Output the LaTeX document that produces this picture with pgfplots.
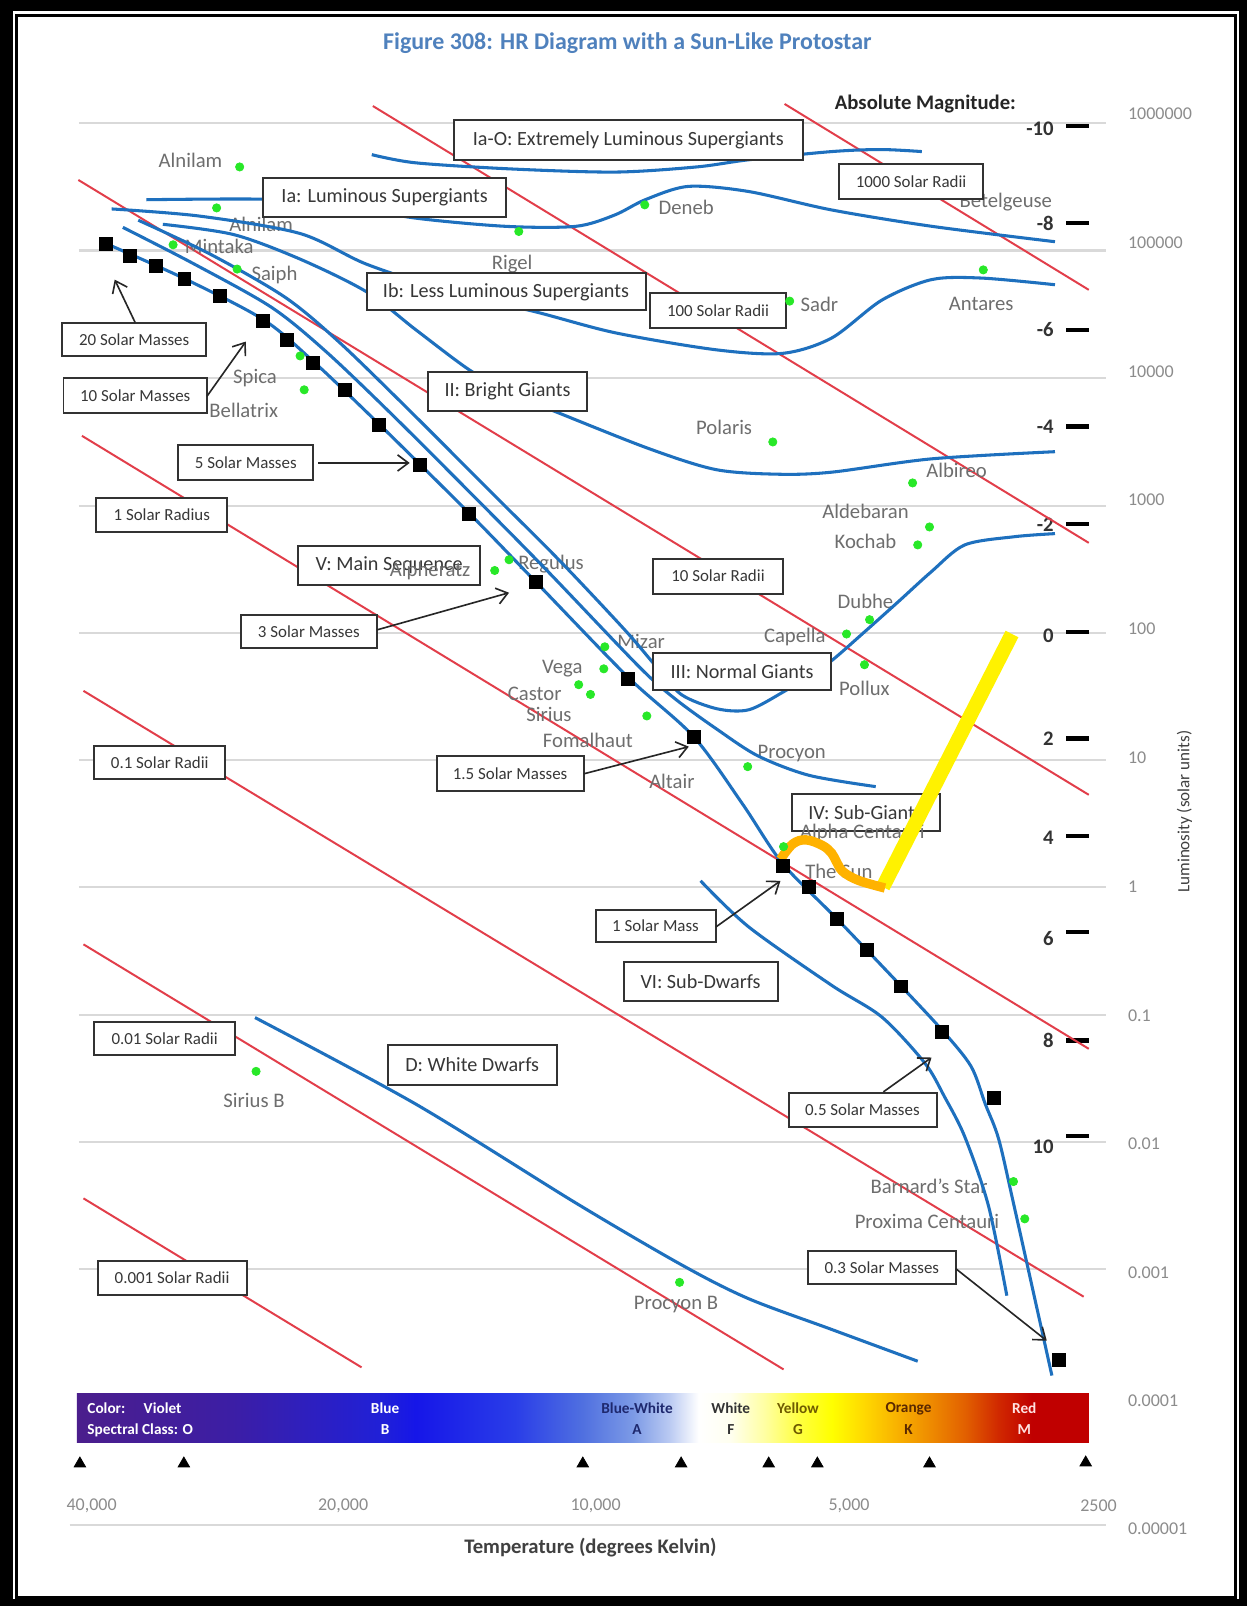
\documentclass[border=0pt]{standalone}
\usepackage{pgfplots}
\pgfplotsset{compat=1.18}
\usepackage{fontspec}
\setmainfont{Carlito}
\usetikzlibrary{arrows.meta}
\definecolor{gridc}{RGB}{217,217,217}
\definecolor{radc}{RGB}{226,62,74}
\definecolor{bluec}{RGB}{30,112,190}
\definecolor{starc}{RGB}{40,232,40}
\definecolor{labc}{RGB}{110,110,110}
\definecolor{titc}{RGB}{79,129,189}
\definecolor{boxc}{RGB}{50,50,50}
\definecolor{boxtxt}{RGB}{55,55,55}
\definecolor{tickc}{RGB}{140,140,140}
\definecolor{orangec}{RGB}{255,178,0}
\pgfdeclarehorizontalshading{spec}{100bp}{%
rgb(0bp)=(0.294,0.118,0.549);
rgb(25bp)=(0.294,0.118,0.549);
rgb(32.69bp)=(0.235,0.118,0.647);
rgb(40.13bp)=(0.125,0.125,0.847);
rgb(41.75bp)=(0.086,0.086,0.91);
rgb(46.71bp)=(0.165,0.243,0.91);
rgb(50bp)=(0.314,0.439,0.878);
rgb(52.48bp)=(0.486,0.604,0.902);
rgb(54.25bp)=(0.725,0.788,0.949);
rgb(55.72bp)=(1,1,1);
rgb(57.29bp)=(1,1,0.94);
rgb(59.01bp)=(1,1,0.63);
rgb(60.68bp)=(1,1,0.25);
rgb(62.3bp)=(1,1,0);
rgb(63.92bp)=(1,0.847,0);
rgb(65.59bp)=(0.973,0.69,0);
rgb(67.21bp)=(0.933,0.541,0);
rgb(68.88bp)=(0.886,0.376,0);
rgb(70.55bp)=(0.816,0.157,0);
rgb(72.17bp)=(0.753,0,0);
rgb(75bp)=(0.753,0,0);
rgb(100bp)=(0.753,0,0)}
\tikzset{
  bx/.style={draw=boxc, line width=1.1pt, fill=white},
  bt/.style={font=\fontsize{11.2}{13}\selectfont, text=boxtxt, inner sep=0pt},
  st/.style={font=\fontsize{9.4}{11}\selectfont, text=boxtxt, inner sep=0pt},
  sl/.style={font=\fontsize{11.5}{13}\selectfont, text=labc, inner sep=0pt},
  ar/.style={-{Straight Barb[length=6pt,width=9pt,line width=0.9pt]}, line width=0.9pt, black!85},
  rl/.style={radc, line width=1.1pt},
  bl/.style={bluec, line width=1.7pt, smooth, tension=0.5},
  gl/.style={gridc, line width=1.2pt},
  md/.style={black, line width=2.4pt},
  ml/.style={font=\bfseries\fontsize{11.5}{13}\selectfont, text=black!80, anchor=east, inner sep=0pt},
  rt/.style={font=\fontsize{10}{12}\selectfont, text=tickc, anchor=west, inner sep=0pt},
  tt/.style={font=\fontsize{10}{12}\selectfont, text=tickc, inner sep=0pt},
  cb/.style={font=\bfseries\fontsize{8.5}{10}\selectfont, inner sep=0pt},
}
\begin{document}
\begin{tikzpicture}
\begin{axis}[
  scale only axis, width=243.4mm, height=313.6mm,
  xmin=0, xmax=1217, ymin=0, ymax=1568, y dir=reverse,
  hide axis, clip=false,
]
% frame
\fill[black] (axis cs:0,0) rectangle (axis cs:1217,1568);
\fill[white] (axis cs:13,10.5) rectangle (axis cs:1210,1561.5);
\draw[black, line width=1.7pt] (axis cs:16.1,14.7) rectangle (axis cs:1206.7,1559.3);

% title
\node[font=\bfseries\fontsize{13.3}{15}\selectfont, text=titc, inner sep=0pt] at (axis cs:612.5,42) {Figure 308: HR Diagram with a Sun-Like Protostar};

% gridlines (log L = 6 ... -5)
\draw[gl] (axis cs:77,120) -- (axis cs:1080,120);
\draw[gl] (axis cs:77,244.5) -- (axis cs:1080,244.5);
\draw[gl] (axis cs:77,369) -- (axis cs:1080,369);
\draw[gl] (axis cs:77,494) -- (axis cs:1080,494);
\draw[gl] (axis cs:77,618) -- (axis cs:1080,618);
\draw[gl] (axis cs:77,742) -- (axis cs:1080,742);
\draw[gl] (axis cs:77,866) -- (axis cs:1080,866);
\draw[gl] (axis cs:77,991) -- (axis cs:1080,991);
\draw[gl] (axis cs:77,1115) -- (axis cs:1080,1115);
\draw[gl] (axis cs:77,1239) -- (axis cs:1080,1239);
\draw[gl] (axis cs:68,1489) -- (axis cs:1080,1489);

% luminosity labels
\node[rt] at (axis cs:1101,111) {1000000};
\node[rt] at (axis cs:1101,237) {100000};
\node[rt] at (axis cs:1101,363) {10000};
\node[rt] at (axis cs:1101,488) {1000};
\node[rt] at (axis cs:1101,614) {100};
\node[rt] at (axis cs:1101,740) {10};
\node[rt] at (axis cs:1101,866) {1};
\node[rt] at (axis cs:1101,992) {0.1};
\node[rt] at (axis cs:1101,1117) {0.01};
\node[rt] at (axis cs:1101,1243) {0.001};
\node[rt] at (axis cs:1101,1368) {0.0001};
\node[rt] at (axis cs:1101,1493) {0.00001};
\node[font=\fontsize{9.5}{11}\selectfont, text=black!75, rotate=90, inner sep=0pt] at (axis cs:1156.5,792.5) {Luminosity (solar units)};

% absolute magnitude
\node[font=\bfseries\fontsize{11.5}{13}\selectfont, text=black!85, inner sep=0pt] at (axis cs:903.5,102) {Absolute Magnitude:};
\draw[md] (axis cs:1041,123) -- (axis cs:1063,123);
\draw[md] (axis cs:1041,217.5) -- (axis cs:1063,217.5);
\draw[md] (axis cs:1041,322) -- (axis cs:1063,322);
\draw[md] (axis cs:1041,416.5) -- (axis cs:1063,416.5);
\draw[md] (axis cs:1041,511.5) -- (axis cs:1063,511.5);
\draw[md] (axis cs:1041,617) -- (axis cs:1063,617);
\draw[md] (axis cs:1041,721) -- (axis cs:1063,721);
\draw[md] (axis cs:1041,816) -- (axis cs:1063,816);
\draw[md] (axis cs:1041,910) -- (axis cs:1063,910);
\draw[md] (axis cs:1041,1016) -- (axis cs:1063,1016);
\draw[md] (axis cs:1041,1109) -- (axis cs:1063,1109);
\node[ml] at (axis cs:1029,126) {-10};
\node[ml] at (axis cs:1029,218) {-8};
\node[ml] at (axis cs:1029,322) {-6};
\node[ml] at (axis cs:1029,417) {-4};
\node[ml] at (axis cs:1029,512) {-2};
\node[ml] at (axis cs:1029,621) {0};
\node[ml] at (axis cs:1029,721) {2};
\node[ml] at (axis cs:1029,818) {4};
\node[ml] at (axis cs:1029,916) {6};
\node[ml] at (axis cs:1029,1016) {8};
\node[ml] at (axis cs:1029,1120) {10};

% colour bar
\shade[shading=spec] (axis cs:75,1360.5) rectangle (axis cs:1063,1408);
\node[cb, text=white, anchor=west] at (axis cs:85,1375) {Color:\hspace{1.2em}Violet};
\node[cb, text=white, anchor=west] at (axis cs:85,1396) {Spectral Class: O};
\node[cb, text=white] at (axis cs:376,1375) {Blue};
\node[cb, text=white] at (axis cs:376,1396) {B};
\node[cb, text={rgb,255:red,30;green,40;blue,110}] at (axis cs:622,1375) {Blue-White};
\node[cb, text={rgb,255:red,30;green,40;blue,110}] at (axis cs:622,1396) {A};
\node[cb, text=black!80] at (axis cs:713.5,1375) {White};
\node[cb, text=black!80] at (axis cs:713.5,1396) {F};
\node[cb, text={rgb,255:red,110;green,90;blue,0}] at (axis cs:779,1375) {Yellow};
\node[cb, text={rgb,255:red,110;green,90;blue,0}] at (axis cs:779,1396) {G};
\node[cb, text={rgb,255:red,90;green,40;blue,0}] at (axis cs:887,1375) {Orange};
\node[cb, text={rgb,255:red,90;green,40;blue,0}] at (axis cs:887,1396) {K};
\node[cb, text={rgb,255:red,255;green,225;blue,225}] at (axis cs:1000,1375) {Red};
\node[cb, text={rgb,255:red,255;green,225;blue,225}] at (axis cs:1000,1396) {M};

% spectral class boundaries
\addplot[only marks, mark=triangle*, mark size=3.7pt, black] coordinates {
(78,1429) (179.5,1429) (569,1429) (665,1429) (750.5,1429) (798,1429) (907.5,1429) (1060,1428)};

% temperature labels
\node[tt] at (axis cs:89.5,1470) {40,000};
\node[tt] at (axis cs:335,1470) {20,000};
\node[tt] at (axis cs:581.5,1470) {10,000};
\node[tt] at (axis cs:829,1470) {5,000};
\node[tt] at (axis cs:1072.5,1470) {2500};
\node[font=\bfseries\fontsize{11.5}{13}\selectfont, text=black!75, inner sep=0pt] at (axis cs:576.5,1511) {Temperature (degrees Kelvin)};

% lines of constant radius
\addplot[rl] coordinates {(766,101.5) (1063,283)};
\addplot[rl] coordinates {(364,103.5) (1063,530)};
\addplot[rl] coordinates {(76.5,175.7) (1063,776)};
\addplot[rl] coordinates {(80,425.5) (1063,1024)};
\addplot[rl] coordinates {(81.5,674.5) (1058,1266)};
\addplot[rl] coordinates {(81.5,922) (765,1337)};
\addplot[rl] coordinates {(81.5,1170) (353,1335)};

% star names (under the curves)
\node[sl] at (axis cs:186,157) {Alnilam};
\node[sl] at (axis cs:255,219.5) {Alnilam};
\node[sl] at (axis cs:214,241) {Mintaka};
\node[sl] at (axis cs:268,268) {Saiph};
\node[sl] at (axis cs:249,369) {Spica};
\node[sl] at (axis cs:238,401) {Bellatrix};
\node[sl] at (axis cs:500,258) {Rigel};
\node[sl] at (axis cs:670,202) {Deneb};
\node[sl] at (axis cs:800,297) {Sadr};
\node[sl] at (axis cs:982,197) {Betelgeuse};
\node[sl] at (axis cs:958,297) {Antares};
\node[sl] at (axis cs:707,417) {Polaris};
\node[sl] at (axis cs:934,459) {Albireo};
\node[sl] at (axis cs:845,499) {Aldebaran};
\node[sl] at (axis cs:845,529) {Kochab};
\node[sl] at (axis cs:845,587) {Dubhe};
\node[sl] at (axis cs:776,622) {Capella};
\node[sl] at (axis cs:844,672) {Pollux};
\node[sl] at (axis cs:626,626) {Mizar};
\node[sl] at (axis cs:549,653) {Vega};
\node[sl] at (axis cs:522,677) {Castor};
\node[sl] at (axis cs:536,698) {Sirius};
\node[sl] at (axis cs:574,723) {Fomalhaut};
\node[sl] at (axis cs:773,736) {Procyon};
\node[sl] at (axis cs:656,763) {Altair};
\node[sl] at (axis cs:538,551) {Regulus};
\node[sl] at (axis cs:819,851) {The Sun};
\node[sl] at (axis cs:907,1158) {Barnard's Star};
\node[sl] at (axis cs:905,1193) {Proxima Centauri};
\node[sl] at (axis cs:248,1074) {Sirius B};
\node[sl] at (axis cs:660,1274) {Procyon B};

% luminosity class curves
\addplot[bl] coordinates {(363,151) (406,159) (500,165) (601,168) (680,163) (731,156) (812,148) (860,146) (900,148)};
\addplot[bl] coordinates {(143,195) (257,194.5) (330,200) (406,213) (494,221) (562,221) (600,210) (630,195) (672,182) (731,187) (812,205) (910,221) (1030,236)};
\addplot[bl] coordinates {(109,204) (195,211) (293,228) (358,258) (440,285) (523,304.5) (601,325) (699,341.5) (764,345) (812,330) (861,293) (909.5,273) (958.5,271.5) (1030,278)};
\addplot[bl] coordinates {(159,219) (228,229) (293,253) (358,285) (406,322) (458,361) (500,385) (542.5,402) (633.5,438) (699,458.5) (760,463) (812,461) (909.5,448) (1030,441)};
% main sequence band
\addplot[bl] coordinates {(104,238) (180,272) (257,312) (305,352) (370,414) (458,501) (523,568) (613,661) (677,719) (725,785) (764,843) (817,897) (880,963) (920,1006) (948,1041) (962,1078) (975,1112) (990,1177) (1027,1343)};
\addplot[bl] coordinates {(120,222) (190,258) (265,300) (318,343) (383,405) (470,492) (535,558) (625,652) (660,683) (700,712) (740,738) (790,757) (855,768)};
\addplot[bl] coordinates {(135,215) (205,248) (278,290) (330,333) (395,396) (482,483) (547,548) (610,615) (640,650) (665,678) (700,692) (731,693) (764,676) (790,660) (812,645) (844,617) (877,587.5) (909.5,558) (942,532) (990.5,524) (1030,521)};
% sub-dwarfs
\addplot[bl] coordinates {(684,860) (731,905) (812,962) (861,993) (903,1038) (922,1070.5) (942,1110) (965,1177) (983,1265)};
% white dwarfs
\addplot[bl] coordinates {(249,993.5) (406,1078) (563,1175) (666.5,1235.5) (731,1268) (812,1298) (896,1329)};

% boxes
\draw[bx] (axis cs:443,117) rectangle (axis cs:784,156);
\node[bt] at (axis cs:613.5,136.5) {Ia-O: Extremely Luminous Supergiants};
\draw[bx] (axis cs:257,174) rectangle (axis cs:494,211.5);
\node[bt] at (axis cs:375.5,193) {Ia: Luminous Supergiants};
\draw[bx] (axis cs:358,267) rectangle (axis cs:630.5,302.5);
\node[bt] at (axis cs:494,285) {Ib: Less Luminous Supergiants};
\draw[bx] (axis cs:418,363) rectangle (axis cs:573,401);
\node[bt] at (axis cs:495.5,382) {II: Bright Giants};
\draw[bx] (axis cs:638,638) rectangle (axis cs:811,673.5);
\node[bt] at (axis cs:724.5,656) {III: Normal Giants};
\draw[bx] (axis cs:773,775) rectangle (axis cs:917.5,811);
\node[bt] at (axis cs:845,793) {IV: Sub-Giants};
\draw[bx] (axis cs:291,533) rectangle (axis cs:468.5,571);
\node[bt] at (axis cs:380,552) {V: Main Sequence};
\draw[bx] (axis cs:609,939) rectangle (axis cs:759.5,977);
\node[bt] at (axis cs:684,958) {VI: Sub-Dwarfs};
\draw[bx] (axis cs:379,1020) rectangle (axis cs:543.5,1059);
\node[bt] at (axis cs:461,1039.5) {D: White Dwarfs};

\draw[bx] (axis cs:61,315) rectangle (axis cs:201,348);
\node[st] at (axis cs:131,331.5) {20 Solar Masses};
\draw[bx] (axis cs:62,369) rectangle (axis cs:202,403);
\node[st] at (axis cs:132,386) {10 Solar Masses};
\draw[bx] (axis cs:174,434.5) rectangle (axis cs:306,468.5);
\node[st] at (axis cs:240,451.5) {5 Solar Masses};
\draw[bx] (axis cs:235,600) rectangle (axis cs:368,633);
\node[st] at (axis cs:301.5,616.5) {3 Solar Masses};
\draw[bx] (axis cs:426.5,738) rectangle (axis cs:570,772);
\node[st] at (axis cs:498,755) {1.5 Solar Masses};
\draw[bx] (axis cs:581.5,888) rectangle (axis cs:699,920);
\node[st] at (axis cs:640,904) {1 Solar Mass};
\draw[bx] (axis cs:770,1067) rectangle (axis cs:914.5,1100);
\node[st] at (axis cs:842,1083.5) {0.5 Solar Masses};
\draw[bx] (axis cs:789,1221) rectangle (axis cs:933,1254);
\node[st] at (axis cs:861,1237.5) {0.3 Solar Masses};
\draw[bx] (axis cs:94,486) rectangle (axis cs:222,519);
\node[st] at (axis cs:158,502.5) {1 Solar Radius};
\draw[bx] (axis cs:92,728) rectangle (axis cs:220,761);
\node[st] at (axis cs:156,744.5) {0.1 Solar Radii};
\draw[bx] (axis cs:92,997.5) rectangle (axis cs:229.5,1030.5);
\node[st] at (axis cs:160.75,1014) {0.01 Solar Radii};
\draw[bx] (axis cs:95.5,1231) rectangle (axis cs:241,1264);
\node[st] at (axis cs:168,1247.5) {0.001 Solar Radii};
\draw[bx] (axis cs:638,545.5) rectangle (axis cs:764,579.5);
\node[st] at (axis cs:701,562.5) {10 Solar Radii};
\draw[bx] (axis cs:635,286) rectangle (axis cs:767,320.5);
\node[st] at (axis cs:701,303) {100 Solar Radii};
\draw[bx] (axis cs:819,160) rectangle (axis cs:960,194.5);
\node[st] at (axis cs:889.5,177) {1000 Solar Radii};

% arrows
\draw[ar] (axis cs:132,315) -- (axis cs:112,273);
\draw[ar] (axis cs:202,387) -- (axis cs:240,333.5);
\draw[ar] (axis cs:310.5,452) -- (axis cs:400,452);
\draw[ar] (axis cs:368,615) -- (axis cs:497,578.7);
\draw[ar] (axis cs:570,755.5) -- (axis cs:672.5,729);
\draw[ar] (axis cs:699,905) -- (axis cs:762,860);
\draw[ar] (axis cs:862.5,1066) -- (axis cs:909.5,1032.5);
\draw[ar] (axis cs:933,1238.5) -- (axis cs:1022,1309);

% stars
\addplot[only marks, mark=*, mark size=2.3pt, starc, mark options={draw=none}] coordinates {
(234,163) (211.5,203) (169,239) (231.5,262.7) (506.5,226) (629.5,200) (771,294) (960,263.5)
(293,347.5) (297,380.6) (754.5,431.5) (891,471.5) (907.5,514.5) (896,532) (849,605) (826.5,619)
(844,649) (590.5,631.5) (589.5,653) (565,668.5) (576.5,678) (631.5,699) (730,748.5) (497,546.5)
(483,557) (765,826.6) (989.5,1153.6) (1000.5,1190) (250,1046) (663.5,1252)};

% evolutionary mass points
\addplot[only marks, mark=square*, mark size=3.6pt, black] coordinates {
(103.5,238) (127,250) (152,260) (180,272.5) (215,289) (257,313) (280,332) (305,354.5) (337,380.5)
(370,415) (410,454) (458,501.5) (523,568) (613,662.5) (677.5,719) (764,845) (789.5,866) (817,897)
(846,927) (879.5,963) (920,1007) (970,1071.5) (1033.5,1328)};

% names written over boxes
\node[sl] at (axis cs:420,557) {Alpheratz};
\node[sl] at (axis cs:842,813) {Alpha Centauri};

% protostar track
\addplot[yellow, line width=8pt] coordinates {(988,619) (862,866)};
\addplot[orangec, line width=5.2pt, smooth, tension=0.6] coordinates {(762,839) (774,824) (787,820) (803,825.5) (812,833) (817,842) (823,851) (838,859.5) (864,867)};
\end{axis}
\end{tikzpicture}
\end{document}
